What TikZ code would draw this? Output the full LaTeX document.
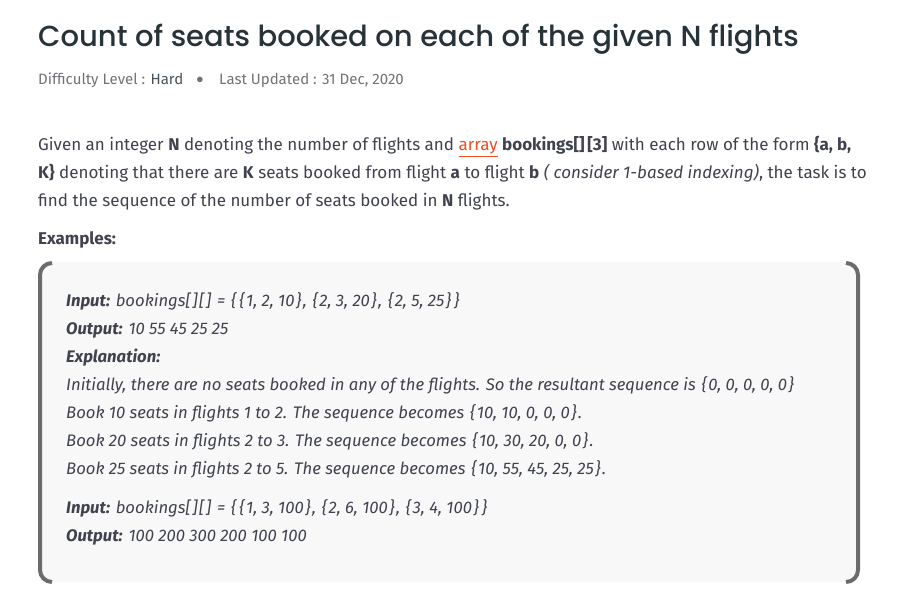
\documentclass[tikz,border=0pt]{standalone}
\usepackage{fontspec}
\setmainfont{Fira Sans}
\newfontfamily\titlefont{Poppins Medium}
\usetikzlibrary{positioning}

\definecolor{headcol}{HTML}{273239}
\definecolor{bodycol}{HTML}{40424E}
\definecolor{metacol}{HTML}{707378}
\definecolor{linkcol}{HTML}{EC4E20}
\definecolor{boxfill}{HTML}{F8F8F8}
\definecolor{boxedge}{HTML}{6B6B6B}

% wider braces and brackets, as the page sets them
\newcommand{\lbr}{\kern1.5pt\{\kern1.5pt}
\newcommand{\rbr}{\kern1.5pt\}\kern1.5pt}
\newcommand{\sqp}{[\kern1.5pt]\kern1.5pt}

\begin{document}
\begin{tikzpicture}[
            x=1pt, y=-1pt,
            heading/.style = {anchor=base west, inner sep=0pt, font=\titlefont\fontsize{29}{34}\selectfont, text=headcol},
            meta/.style = {anchor=base west, inner sep=0pt, font=\fontsize{15}{18}\selectfont, text=metacol},
            para/.style = {anchor=base west, inner sep=0pt, font=\fontsize{17}{20}\selectfont, text=bodycol},
            exline/.style = {anchor=base west, inner sep=0pt, font=\fontsize{16.7}{20}\selectfont\itshape, text=bodycol},
            edge/.style = {draw=boxedge, line width=4pt},
        ]

            \useasboundingbox[fill=white] (0,0) rectangle (900,601);

            % Title and meta line
            \node[heading] (title) at (38,47) {Count of seats booked on each of the given N flights};
            \node[meta] (level) at (38,85) {Difficulty Level : \textcolor{headcol!85}{Hard}};
            \node[meta, anchor=center] (dot) at (200,80) {$\bullet$};
            \node[meta] (updated) at (219,85) {Last Updated : 31 Dec, 2020};

            % Problem statement
            \node[para] (line1) at (38,151) {Given an integer \textbf{N} denoting the number of flights and \textcolor{linkcol}{\underline{array}} \textbf{bookings[]\,[3]} with each row of the form \textbf{\{a, b,}};
            \node[para] (line2) at (38,179) {\textbf{K\}} denoting that there are \textbf{K} seats booked from flight \textbf{a} to flight \textbf{b} \textit{( consider 1-based indexing)}, the task is to};
            \node[para] (line3) at (38,207) {find the sequence of the number of seats booked in \textbf{N} flights.};
            \node[para] (examples) at (38,245) {\textbf{Examples:}};

            % Example box
            \fill[boxfill, rounded corners=12pt] (38,262) rectangle (860,582);
            \draw[edge] (52,263) arc[start angle=-90, end angle=-180, radius=12] -- (40,570) arc[start angle=180, end angle=90, radius=12];
            \draw[edge] (846,263) arc[start angle=-90, end angle=0, radius=12] -- (858,570) arc[start angle=0, end angle=90, radius=12];

            \node[exline] (in1) at (66,307) {\textbf{Input:} bookings\sqp\sqp{} = \lbr\lbr 1, 2, 10\rbr, \lbr 2, 3, 20\rbr, \lbr 2, 5, 25\rbr\rbr};
            \node[exline] (out1) at (66,335) {\textbf{Output:} 10 55 45 25 25};
            \node[exline] (expl) at (66,363) {\textbf{Explanation:}};
            \node[exline] (step0) at (66,391) {Initially, there are no seats booked in any of the flights. So the resultant sequence is \lbr 0, 0, 0, 0, 0\rbr};
            \node[exline] (step1) at (66,419) {Book 10 seats in flights 1 to 2. The sequence becomes \lbr 10, 10, 0, 0, 0\rbr.};
            \node[exline] (step2) at (66,447) {Book 20 seats in flights 2 to 3. The sequence becomes \lbr 10, 30, 20, 0, 0\rbr.};
            \node[exline] (step3) at (66,475) {Book 25 seats in flights 2 to 5. The sequence becomes \lbr 10, 55, 45, 25, 25\rbr.};
            \node[exline] (in2) at (66,513) {\textbf{Input:} bookings\sqp\sqp{} = \lbr\lbr 1, 3, 100\rbr, \lbr 2, 6, 100\rbr, \lbr 3, 4, 100\rbr\rbr};
            \node[exline] (out2) at (66,541) {\textbf{Output:} 100 200 300 200 100 100};

        \end{tikzpicture}
\end{document}
